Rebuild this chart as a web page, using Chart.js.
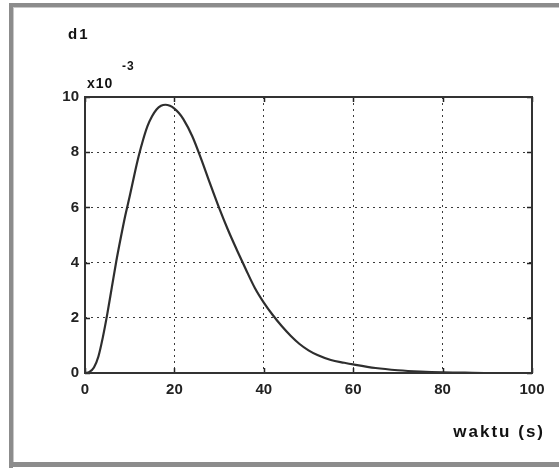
<!DOCTYPE html>
<html>
<head>
<meta charset="utf-8">
<script src="https://cdn.jsdelivr.net/npm/chart.js@4/dist/chart.umd.min.js"></script>
<style>
  html, body { margin: 0; padding: 0; background: #ffffff; }
  #wrap { width: 559px; height: 468px; position: relative; }
</style>
</head>
<body>
<div id="wrap"><canvas id="c" width="559" height="468"></canvas></div>
<script>
// ---- data (values in units of 10^-3) ----
const waktu = [0, 1, 2, 3, 4, 5, 6, 7, 8, 9, 10, 11, 12, 13, 14, 15, 16, 17, 18, 19, 20, 21, 22, 24, 26, 28, 30, 32, 34, 36, 38, 40, 42, 44, 46, 48, 50, 52, 55, 58, 60, 65, 70, 75, 80, 85, 90, 95, 100];
const d1 = [0, 0.04, 0.2, 0.6, 1.3, 2.15, 3.1, 4.05, 4.9, 5.7, 6.4, 7.15, 7.85, 8.45, 8.95, 9.3, 9.55, 9.68, 9.72, 9.68, 9.58, 9.42, 9.2, 8.58, 7.75, 6.85, 5.98, 5.18, 4.45, 3.75, 3.08, 2.55, 2.1, 1.7, 1.35, 1.05, 0.82, 0.65, 0.47, 0.37, 0.31, 0.18, 0.1, 0.05, 0.02, 0.01, 0.0, 0.0, 0.0];
const xTicks = [0, 20, 40, 60, 80, 100];
const yTicks = [0, 2, 4, 6, 8, 10];
const titleText = "d1";
const xLabelText = "waktu (s)";
const expBase = "x10";
const expPow = "-3";

const points = waktu.map((t, i) => ({ x: t, y: d1[i] }));
const tickFont = { family: "'Liberation Sans', Arial, sans-serif", size: 15, weight: 'bold' };

const decor = {
  id: 'decor',
  beforeDraw(chart) {
    const ctx = chart.ctx;
    ctx.save();
    ctx.fillStyle = '#ffffff';
    ctx.fillRect(0, 0, chart.width, chart.height);
    // outer window frame
    ctx.fillStyle = '#8c8c8c';
    ctx.fillRect(9, 3, 550, 4);
    ctx.fillRect(9, 3, 4, 465);
    ctx.fillRect(9, 462, 550, 5);
    ctx.fillStyle = '#c8c8c8';
    ctx.fillRect(13, 7, 546, 1);
    ctx.fillRect(13, 7, 1, 455);
    ctx.restore();
  },
  afterDraw(chart) {
    const ctx = chart.ctx;
    const a = chart.chartArea;
    const xs = chart.scales.x, ys = chart.scales.y;
    ctx.save();
    // inward ticks on all four sides
    ctx.strokeStyle = '#222';
    ctx.lineWidth = 1.5;
    ctx.beginPath();
    xTicks.forEach(v => {
      const px = Math.round(xs.getPixelForValue(v)) + 0.5;
      ctx.moveTo(px, a.bottom); ctx.lineTo(px, a.bottom - 5);
      ctx.moveTo(px, a.top); ctx.lineTo(px, a.top + 5);
    });
    yTicks.forEach(v => {
      const py = Math.round(ys.getPixelForValue(v)) + 0.5;
      ctx.moveTo(a.left, py); ctx.lineTo(a.left + 5, py);
      ctx.moveTo(a.right, py); ctx.lineTo(a.right - 5, py);
    });
    ctx.stroke();
    // axes box
    ctx.strokeStyle = '#333';
    ctx.lineWidth = 2;
    ctx.strokeRect(a.left, a.top, a.right - a.left, a.bottom - a.top);
    // title
    ctx.fillStyle = '#111';
    ctx.textBaseline = 'alphabetic';
    ctx.textAlign = 'left';
    ctx.font = "bold 15px 'Liberation Sans', Arial, sans-serif";
    try { ctx.letterSpacing = '2px'; } catch (e) {}
    ctx.fillText(titleText, 68, 39);
    // exponent label
    ctx.font = "bold 14px 'Liberation Sans', Arial, sans-serif";
    try { ctx.letterSpacing = '1px'; } catch (e) {}
    ctx.fillText(expBase, 87, 88);
    ctx.font = "bold 12px 'Liberation Sans', Arial, sans-serif";
    ctx.fillText(expPow, 122, 70);
    // x label
    ctx.font = "bold 17px 'Liberation Sans', Arial, sans-serif";
    try { ctx.letterSpacing = '2px'; } catch (e) {}
    ctx.textAlign = 'right';
    ctx.fillText(xLabelText, 545, 437);
    ctx.restore();
  }
};

new Chart(document.getElementById('c'), {
  type: 'line',
  data: {
    datasets: [{
      data: points,
      borderColor: '#2e2e2e',
      borderWidth: 2.2,
      pointRadius: 0,
      fill: false,
      tension: 0.4,
      cubicInterpolationMode: 'monotone'
    }]
  },
  options: {
    responsive: false,
    animation: false,
    events: [],
    layout: { padding: { left: 20, top: 97, right: 27, bottom: 30 } },
    plugins: { legend: { display: false }, tooltip: { enabled: false }, title: { display: false } },
    scales: {
      x: {
        type: 'linear',
        min: 0, max: 100,
        afterFit(s) { s.height = 65; },
        afterBuildTicks(s) { s.ticks = xTicks.map(v => ({ value: v })); },
        ticks: { font: tickFont, color: '#222', padding: 8, maxRotation: 0, autoSkip: false },
        grid: { color: '#3a3a3a', lineWidth: 1, drawTicks: false },
        border: { display: false, dash: [2, 4] }
      },
      y: {
        type: 'linear',
        min: 0, max: 10,
        afterFit(s) { s.width = 65; },
        afterBuildTicks(s) { s.ticks = yTicks.map(v => ({ value: v })); },
        ticks: { font: tickFont, color: '#222', padding: 6, autoSkip: false },
        grid: { color: '#3a3a3a', lineWidth: 1, drawTicks: false },
        border: { display: false, dash: [2, 4] }
      }
    }
  },
  plugins: [decor]
});
</script>
</body>
</html>
